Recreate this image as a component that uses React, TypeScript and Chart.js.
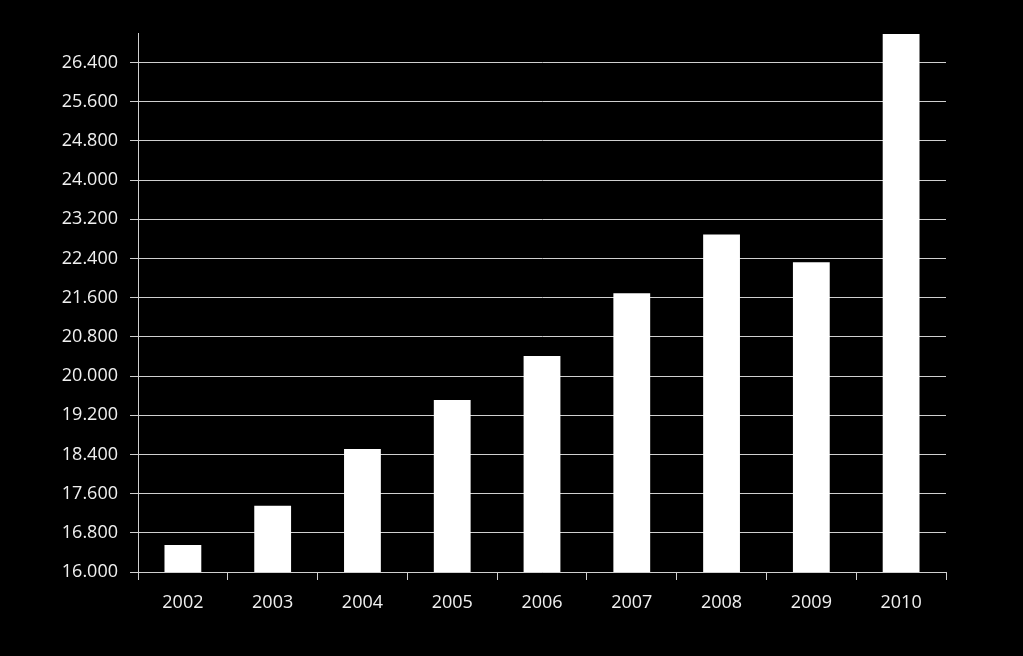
import React, { useEffect, useRef } from "react";
import { Chart, registerables } from "chart.js";

Chart.register(...registerables);

const years = ["2002", "2003", "2004", "2005", "2006", "2007", "2008", "2009", "2010"];
const values = [16550, 17350, 18510, 19510, 20410, 21690, 22890, 22320, 26980];
const yMin = 16000;
const yMax = 27000;
const yStep = 800;
const yTickLimit = 26400;

function fmt(v: number): string {
  return Math.round(v).toString().replace(/\B(?=(\d{3})+(?!\d))/g, ".");
}

export default function App() {
  const ref = useRef<HTMLCanvasElement>(null);
  useEffect(() => {
    document.body.style.margin = "0";
    document.body.style.background = "#000";
    const ctx = ref.current!.getContext("2d")!;
    const chart = new Chart(ctx, {
      type: "bar",
      data: {
        labels: years,
        datasets: [
          {
            data: values,
            backgroundColor: "#ffffff",
            borderWidth: 0,
            categoryPercentage: 1,
            barPercentage: 0.41,
          },
        ],
      },
      options: {
        animation: false,
        responsive: false,
        maintainAspectRatio: false,
        layout: { padding: { top: 33, right: 77, left: 0, bottom: 0 } },
        plugins: { legend: { display: false }, tooltip: { enabled: false } },
        scales: {
          x: {
            afterFit: (s: any) => {
              s.height = 84;
            },
            grid: {
              drawOnChartArea: false,
              drawTicks: true,
              tickLength: 8,
              color: "#d0d0d0",
              offset: true,
            },
            border: { color: "#d0d0d0", width: 1 },
            ticks: {
              color: "#f0f0f0",
              font: { family: "'Open Sans'", size: 18 },
              padding: 12,
            },
          },
          y: {
            min: yMin,
            max: yMax,
            afterFit: (s: any) => {
              s.width = 138;
            },
            afterBuildTicks: (s: any) => {
              const t: any[] = [];
              for (let v = yMin; v <= yTickLimit; v += yStep) t.push({ value: v });
              s.ticks = t;
            },
            grid: {
              color: "#d0d0d0",
              lineWidth: 1,
              tickLength: 8,
            },
            border: { color: "#d0d0d0", width: 1 },
            ticks: {
              color: "#f0f0f0",
              font: { family: "'Open Sans'", size: 18 },
              padding: 12,
              callback: (v: any) => fmt(Number(v)),
            },
          },
        },
      },
    });
    return () => chart.destroy();
  }, []);
  return (
    <div style={{ position: "fixed", left: 0, top: 0, width: 1023, height: 656, background: "#000" }}>
      <canvas ref={ref} width={1023} height={656} style={{ display: "block" }} />
    </div>
  );
}
